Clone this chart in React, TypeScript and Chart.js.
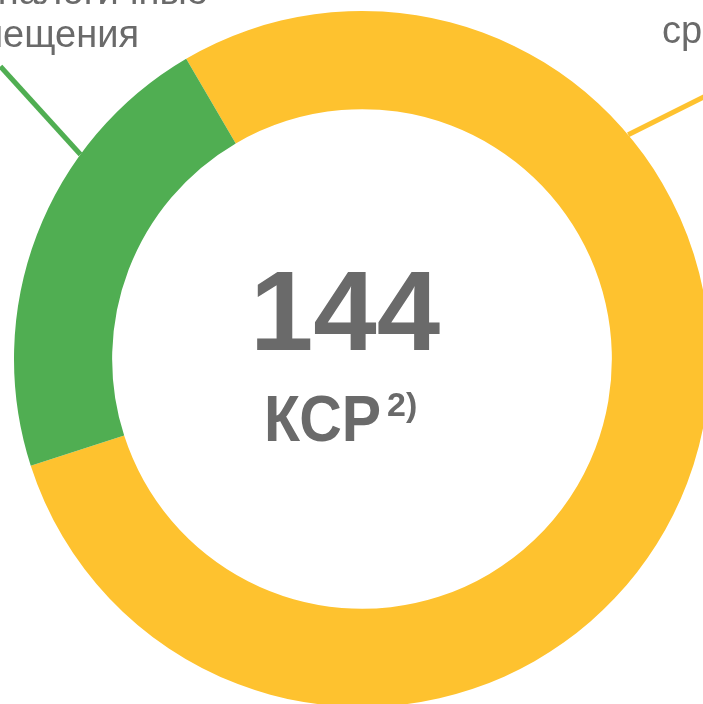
import React, { useEffect, useRef } from 'react';
import { Chart, registerables } from 'chart.js';

Chart.register(...registerables);

// ---- data ----
const CATEGORIES = ['ср', 'аналогичные помещения'];
const VALUES = [113, 31];
const CENTER_UNIT = 'КСР';
const CENTER_SUP = '2)';
const LEFT_LABEL_LINES = ['аналогичные', 'помещения'];
const RIGHT_LABEL_LINES = ['ср'];

// ---- style ----
const COLORS = ['#FEC22F', '#50AE52'];
const TEXT_COLOR = '#6A6A6A';
const FONT = '"Liberation Sans", Arial, sans-serif';

const overlayPlugin = {
  id: 'overlay',
  afterDraw(chart: any) {
    const ctx = chart.ctx as CanvasRenderingContext2D;
    const meta = chart.getDatasetMeta(0);
    const arc: any = meta.data[0];
    if (!arc) return;
    const cx = arc.x;
    const cy = arc.y;
    const R = arc.outerRadius;
    const total = VALUES.reduce((a, b) => a + b, 0);

    ctx.save();
    ctx.fillStyle = TEXT_COLOR;
    ctx.textBaseline = 'alphabetic';

    // center total
    ctx.textAlign = 'center';
    ctx.font = `bold 114px ${FONT}`;
    ctx.fillText(String(total), cx - 17, cy - 9);

    // unit with vertical stretch
    ctx.save();
    ctx.textAlign = 'left';
    ctx.font = `bold 59px ${FONT}`;
    ctx.translate(cx - 98, cy + 82);
    ctx.scale(1, 1.11);
    ctx.fillText(CENTER_UNIT, 0, 0);
    ctx.restore();

    ctx.textAlign = 'left';
    ctx.font = `bold 34px ${FONT}`;
    ctx.fillText(CENTER_SUP, cx + 25, cy + 57);

    // leader lines
    const leader = (angleDeg: number, dx: number, dy: number, color: string) => {
      const a = (angleDeg * Math.PI) / 180;
      const x0 = cx + R * Math.sin(a);
      const y0 = cy - R * Math.cos(a);
      ctx.beginPath();
      ctx.strokeStyle = color;
      ctx.lineWidth = 5;
      ctx.moveTo(x0, y0);
      ctx.lineTo(x0 + dx, y0 + dy);
      ctx.stroke();
    };
    leader(306, -80, -88, COLORS[1]);
    leader(49.9, 90, -45, COLORS[0]);

    // outer labels
    ctx.font = `38px ${FONT}`;
    ctx.fillStyle = TEXT_COLOR;
    ctx.textAlign = 'right';
    ctx.fillText(LEFT_LABEL_LINES[0], 208, 4);
    ctx.fillText(LEFT_LABEL_LINES[1], 139, 47);
    ctx.textAlign = 'left';
    ctx.fillText(RIGHT_LABEL_LINES[0], 662, 43);

    ctx.restore();
  },
};

export default function App() {
  const ref = useRef<HTMLCanvasElement | null>(null);

  useEffect(() => {
    if (!ref.current) return;
    const chart = new Chart(ref.current, {
      type: 'doughnut',
      data: {
        labels: CATEGORIES,
        datasets: [
          {
            data: VALUES,
            backgroundColor: COLORS,
            hoverBackgroundColor: COLORS,
            borderWidth: 0,
          },
        ],
      },
      options: {
        responsive: false,
        maintainAspectRatio: false,
        animation: false,
        rotation: -30.35,
        cutout: '71.8%',
        layout: { padding: { left: 14, top: 11, right: 50, bottom: 53 } },
        plugins: {
          legend: { display: false },
          tooltip: { enabled: false },
        },
        events: [],
      },
      plugins: [overlayPlugin],
    });
    return () => chart.destroy();
  }, []);

  return (
    <div
      style={{
        position: 'fixed',
        left: 0,
        top: 0,
        width: 703,
        height: 704,
        overflow: 'hidden',
        background: '#ffffff',
      }}
    >
      <canvas ref={ref} width={760} height={760} style={{ display: 'block' }} />
    </div>
  );
}
